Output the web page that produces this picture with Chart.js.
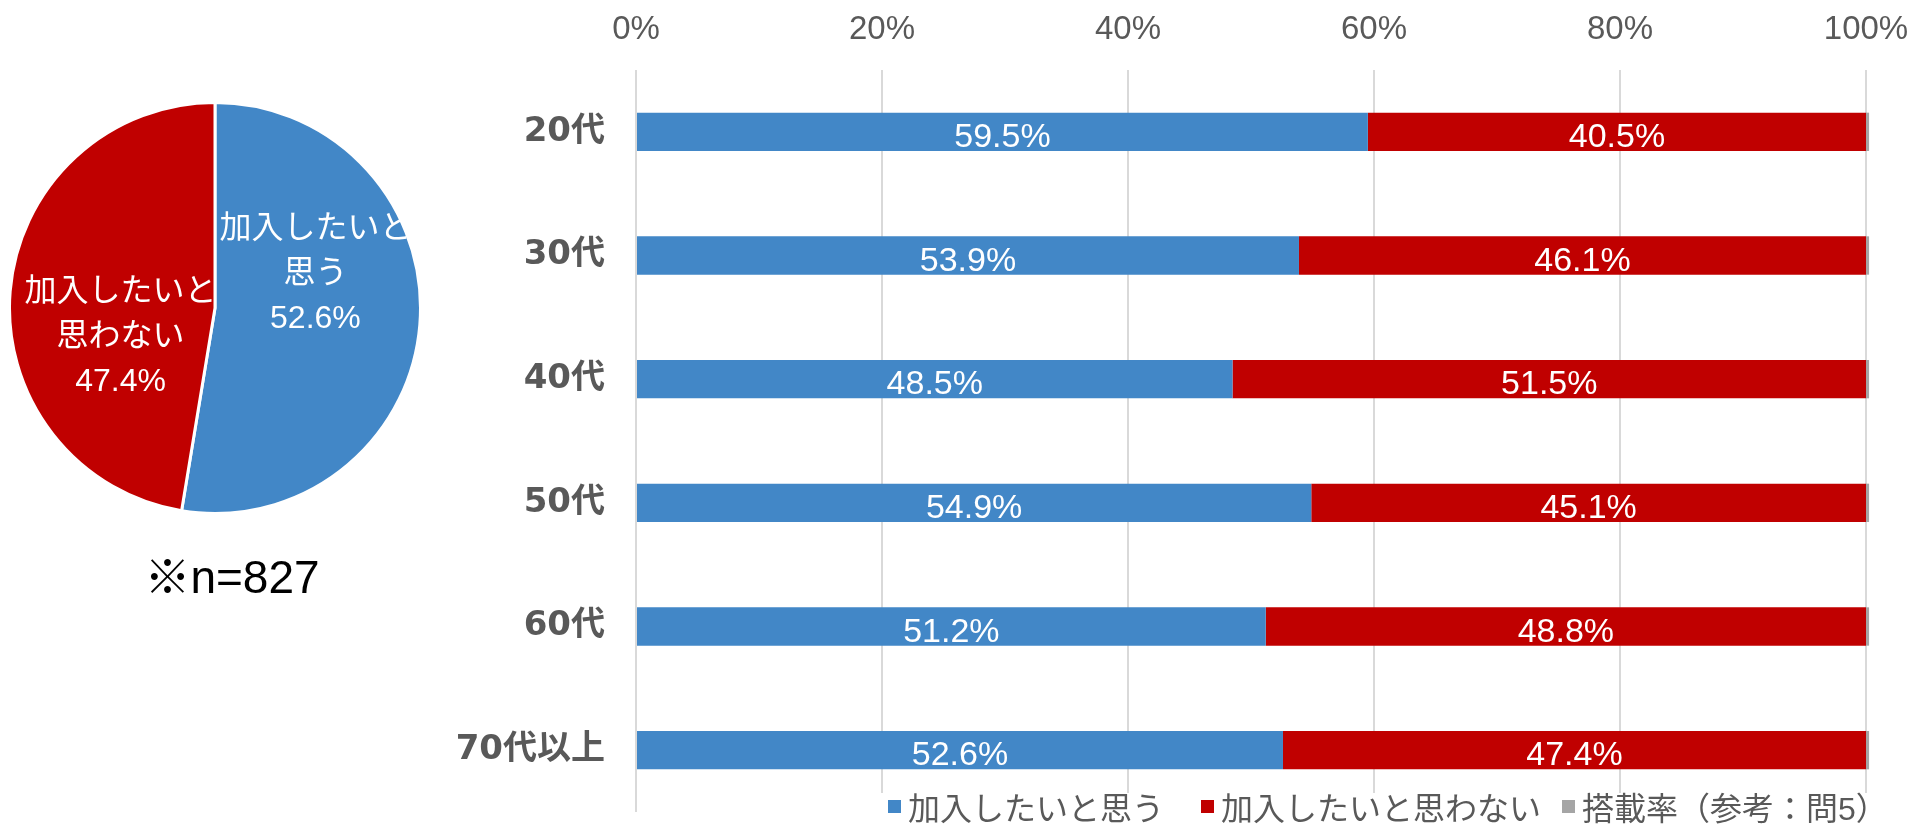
<!DOCTYPE html>
<html lang="ja">
<head>
<meta charset="utf-8">
<title>加入意向</title>
<script src="https://cdn.jsdelivr.net/npm/chart.js@4.4.1/dist/chart.umd.min.js"></script>
<style>
    html, body { margin: 0; padding: 0; background: #fff; }
    #wrap { position: relative; width: 1912px; height: 824px; overflow: hidden; }
    #barBox { position: absolute; left: 0; top: 0; width: 1912px; height: 824px; }
    #pieBox { position: absolute; left: 8px; top: 101px; width: 414px; height: 414px; }
    #note {
        position: absolute; left: 92px; top: 548px; width: 280px; text-align: center;
        font-family: 'Liberation Sans', 'Noto Sans CJK JP', sans-serif; font-size: 46px; color: #000;
        line-height: 58px;
    }
    #legend {
        position: absolute; left: 880px; top: 793px; width: 1032px; height: 31px;
        background: #fff;
        font-family: 'Liberation Sans', 'Noto Sans CJK JP', sans-serif; font-size: 32px; color: #595959;
    }
    #legend .item {
        position: absolute; top: -4px; height: 34px;
        display: flex; align-items: center; white-space: nowrap;
    }
    #legend .box { width: 13px; height: 13px; margin-right: 7px; }
</style>
</head>
<body>
<div id="wrap">
    <div id="barBox"><canvas id="graficoEdad"></canvas></div>
    <div id="pieBox"><canvas id="graficoTotal"></canvas></div>
    <div id="note">※n=827</div>
    <div id="legend"></div>
</div>
<script>
// 年代別
const edades = ['20代', '30代', '40代', '50代', '60代', '70代以上'];
const quiere = [59.5, 53.9, 48.5, 54.9, 51.2, 52.6];
const noQuiere = [40.5, 46.1, 51.5, 45.1, 48.8, 47.4];
const tasa = [0.25, 0.25, 0.25, 0.25, 0.25, 0.25];
const ticksX = [0, 20, 40, 60, 80, 100];

// 全体
const totalLabels = ['加入したいと\n思う', '加入したいと\n思わない'];
const totalValores = [52.6, 47.4];

const serieNombres = ['加入したいと思う', '加入したいと思わない', '搭載率（参考：問5）'];
const AZUL = '#4287C7';
const ROJO = '#C00000';
const GRIS = '#A5A5A5';

const fuenteNum = "'Liberation Sans', Arial, 'Noto Sans CJK JP', sans-serif";

// etiquetas de porcentaje dentro de las barras
const etiquetasBarras = {
    id: 'etiquetasBarras',
    afterDatasetsDraw(chart) {
        const ctx = chart.ctx;
        ctx.save();
        ctx.fillStyle = '#fff';
        ctx.font = `34px ${fuenteNum}`;
        ctx.textAlign = 'center';
        ctx.textBaseline = 'alphabetic';
        [0, 1].forEach(di => {
            const meta = chart.getDatasetMeta(di);
            const valores = chart.data.datasets[di].data;
            meta.data.forEach((bar, i) => {
                const x = (bar.x + bar.base) / 2;
                ctx.fillText(valores[i].toFixed(1) + '%', x, bar.y + 15);
            });
        });
        ctx.restore();
    }
};

new Chart(document.getElementById('graficoEdad'), {
    type: 'bar',
    data: {
        labels: edades,
        datasets: [
            { label: serieNombres[0], data: quiere, backgroundColor: AZUL },
            { label: serieNombres[1], data: noQuiere, backgroundColor: ROJO },
            { label: serieNombres[2], data: tasa, backgroundColor: GRIS, clip: false }
        ]
    },
    options: {
        indexAxis: 'y',
        responsive: true,
        maintainAspectRatio: false,
        animation: false,
        events: [],
        layout: { padding: { left: 0, right: 46, top: 0, bottom: 12 } },
        datasets: { bar: { barPercentage: 0.31, categoryPercentage: 1 } },
        plugins: {
            legend: { display: false },
            tooltip: { enabled: false }
        },
        scales: {
            x: {
                position: 'top',
                stacked: true,
                min: 0,
                max: 100,
                afterFit: s => {
                    s.height = 70;
                    s.paddingLeft = 0;
                    s.paddingRight = 0;
                },
                afterBuildTicks: s => { s.ticks = ticksX.map(v => ({ value: v })); },
                ticks: {
                    callback: v => v + '%',
                    color: '#595959',
                    font: { family: fuenteNum, size: 33 },
                    padding: 20,
                    maxRotation: 0
                },
                grid: { color: '#D9D9D9', lineWidth: 2, drawTicks: false },
                border: { display: false }
            },
            y: {
                stacked: true,
                afterFit: s => {
                    s.width = 636;
                    s.paddingTop = 0;
                    s.paddingBottom = 0;
                },
                ticks: {
                    color: '#595959',
                    font: { family: "'DejaVu Sans', 'Noto Sans CJK JP', sans-serif", size: 34, weight: 'bold' },
                    padding: 31
                },
                grid: { display: false, drawTicks: false },
                border: { display: false }
            }
        }
    },
    plugins: [etiquetasBarras]
});

// etiquetas dentro del circulo
const desplazamientos = [[-2, -42], [8, 38]];
const etiquetasCirculo = {
    id: 'etiquetasCirculo',
    afterDatasetsDraw(chart) {
        const ctx = chart.ctx;
        const meta = chart.getDatasetMeta(0);
        ctx.save();
        ctx.fillStyle = '#fff';
        ctx.font = `32px ${fuenteNum}`;
        ctx.textAlign = 'center';
        ctx.textBaseline = 'middle';
        meta.data.forEach((arc, i) => {
            const p = arc.tooltipPosition();
            const lineas = totalLabels[i].split('\n').concat(totalValores[i].toFixed(1) + '%');
            const alto = 45;
            const cx = p.x + desplazamientos[i][0];
            const cy = p.y + desplazamientos[i][1];
            lineas.forEach((t, k) => {
                ctx.fillText(t, cx, cy + (k - (lineas.length - 1) / 2) * alto);
            });
        });
        ctx.restore();
    }
};

new Chart(document.getElementById('graficoTotal'), {
    type: 'pie',
    data: {
        labels: totalLabels,
        datasets: [{
            data: totalValores,
            backgroundColor: [AZUL, ROJO],
            borderColor: '#fff',
            borderWidth: 3
        }]
    },
    options: {
        responsive: true,
        maintainAspectRatio: false,
        animation: false,
        events: [],
        layout: { padding: 0 },
        plugins: {
            legend: { display: false },
            tooltip: { enabled: false }
        }
    },
    plugins: [etiquetasCirculo]
});

// leyenda (posiciones relativas al recuadro)
const coloresLeyenda = [AZUL, ROJO, GRIS];
const posLeyenda = [8, 321, 682];
document.getElementById('legend').innerHTML = serieNombres.map((n, i) => `
    <div class="item" style="left:${posLeyenda[i]}px">
        <span class="box" style="background:${coloresLeyenda[i]}"></span>${n}
    </div>`).join('');
</script>
</body>
</html>
